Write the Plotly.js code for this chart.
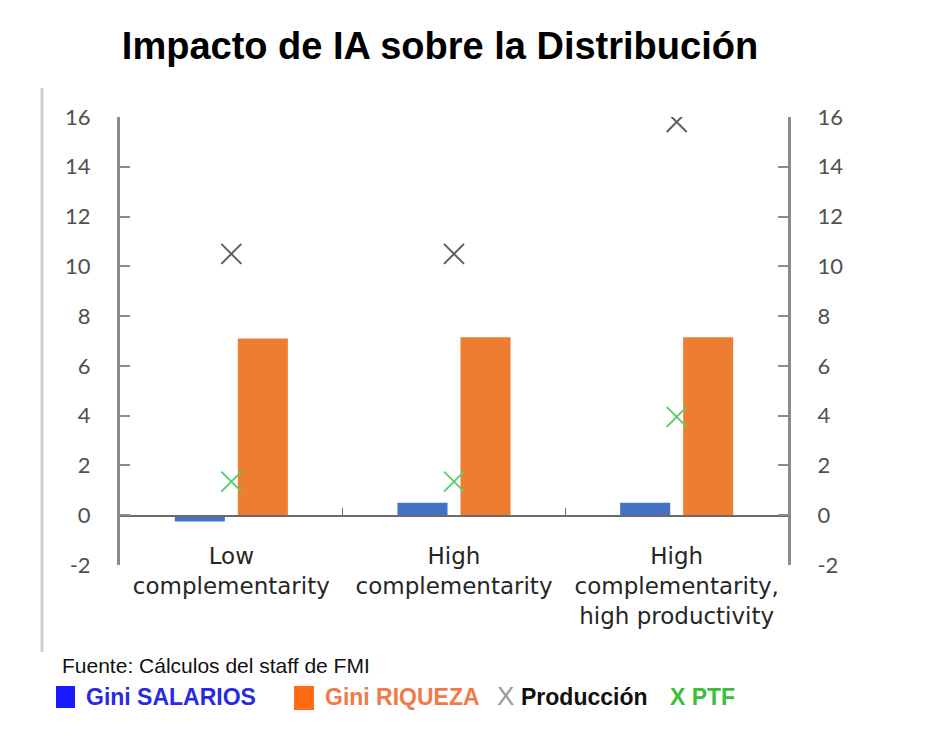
<!DOCTYPE html>
<html>
<head>
<meta charset="utf-8">
<script src="https://cdn.plot.ly/plotly-3.0.1.min.js"></script>
<style>
  html, body { margin: 0; padding: 0; background: #ffffff; }
  #grafico { width: 928px; height: 738px; }
</style>
</head>
<body>
<div id="grafico"></div>
<script>
// Datos
const categorias = [
    'Low<br>complementarity',
    'High<br>complementarity',
    'High<br>complementarity,<br>high productivity'
];
const giniSalarios = [-0.25, 0.5, 0.5];
const giniRiqueza = [7.1, 7.15, 7.15];
const produccion = [10.5, 10.5, 15.8];
const ptf = [1.35, 1.35, 3.95];
const ticksY = [-2, 0, 2, 4, 6, 8, 10, 12, 14, 16];
const ticksYTexto = ['-2', '0', '2', '4', '6', '8', '10', '12', '14', '16'];

// Área del gráfico en píxeles
const W = 928, H = 738;
const PL = 120, PR = 788, PT = 117, PB = 565;
const px = x => (x - PL) / (PR - PL);
const py = y => (PB - y) / (PB - PT);

const ejeColor = '#8c8c8c';
const textoTick = '#505050';

const traces = [
    {
        x: categorias, y: giniSalarios, type: 'bar', name: 'Gini SALARIOS',
        marker: { color: '#4472c4' }
    },
    {
        x: categorias, y: giniRiqueza, type: 'bar', name: 'Gini RIQUEZA',
        marker: { color: '#ed7d31' }
    },
    {
        x: categorias, y: produccion, type: 'scatter', mode: 'markers', name: 'Producción',
        marker: { symbol: 'x-thin-open', size: 20, color: '#5f5f5f', line: { color: '#5f5f5f', width: 2 } }
    },
    {
        x: categorias, y: ptf, type: 'scatter', mode: 'markers', name: 'PTF', yaxis: 'y2',
        marker: { symbol: 'x-thin-open', size: 20, color: '#5fcc70', line: { color: '#5fcc70', width: 2 } }
    }
];

const ejeY = {
    range: [-2, 16],
    tickvals: ticksY,
    ticktext: ticksYTexto,
    ticks: 'inside',
    ticklen: 10,
    tickwidth: 2,
    tickcolor: ejeColor,
    showline: true,
    linecolor: ejeColor,
    linewidth: 3,
    showgrid: false,
    zeroline: false,
    ticklabelstandoff: 22,
    tickfont: { family: 'Lato, sans-serif', size: 22, color: textoTick },
    fixedrange: true
};

const layout = {
    width: W,
    height: H,
    paper_bgcolor: '#ffffff',
    plot_bgcolor: '#ffffff',
    margin: { l: PL, r: W - PR, t: PT, b: H - PB },
    showlegend: false,
    barmode: 'group',
    bargap: 0.434,
    bargroupgap: 0.206,
    title: {
        text: '<b>Impacto de IA sobre la Distribución</b>',
        font: { family: 'Liberation Sans, Arial, sans-serif', size: 38, color: '#000000' },
        x: 440 / W, xanchor: 'center',
        y: 1 - 46 / H, yanchor: 'middle'
    },
    xaxis: {
        anchor: 'free',
        position: py(515),
        showline: true,
        linecolor: '#6a6a6a',
        linewidth: 1.5,
        ticks: 'inside',
        tickson: 'boundaries',
        ticklen: 7,
        tickcolor: '#6a6a6a',
        tickwidth: 1.5,
        ticklabelstandoff: 20,
        tickfont: { family: 'DejaVu Sans, sans-serif', size: 23, color: '#262626' },
        showgrid: false,
        zeroline: false,
        fixedrange: true
    },
    yaxis: Object.assign({}, ejeY, { side: 'left' }),
    yaxis2: Object.assign({}, ejeY, { side: 'right', overlaying: 'y' }),
    shapes: [
        {
            type: 'line', xref: 'paper', yref: 'paper',
            x0: px(42), x1: px(42), y0: py(88), y1: py(652),
            line: { color: '#cfcfcf', width: 3 }
        },
        {
            type: 'rect', xref: 'paper', yref: 'paper',
            x0: px(56), x1: px(75), y0: py(708), y1: py(686),
            fillcolor: '#1a1aff', line: { width: 0 }
        },
        {
            type: 'rect', xref: 'paper', yref: 'paper',
            x0: px(294), x1: px(314), y0: py(710), y1: py(686),
            fillcolor: '#ff6a14', line: { width: 0 }
        }
    ],
    annotations: [
        {
            xref: 'paper', yref: 'paper', x: px(60), y: py(665),
            xanchor: 'left', yanchor: 'middle', showarrow: false,
            text: 'Fuente: Cálculos del staff de FMI',
            font: { family: 'Liberation Sans, Arial, sans-serif', size: 21, color: '#111111' }
        },
        {
            xref: 'paper', yref: 'paper', x: px(84), y: py(697),
            xanchor: 'left', yanchor: 'middle', showarrow: false,
            text: '<b>Gini SALARIOS</b>',
            font: { family: 'Liberation Sans, Arial, sans-serif', size: 23, color: '#2a2ae0' }
        },
        {
            xref: 'paper', yref: 'paper', x: px(323), y: py(697),
            xanchor: 'left', yanchor: 'middle', showarrow: false,
            text: '<b>Gini RIQUEZA</b>',
            font: { family: 'Liberation Sans, Arial, sans-serif', size: 23, color: '#f07a4a' }
        },
        {
            xref: 'paper', yref: 'paper', x: px(495), y: py(696),
            xanchor: 'left', yanchor: 'middle', showarrow: false,
            text: 'X',
            font: { family: 'Liberation Sans, Arial, sans-serif', size: 26, color: '#9a9a9a' }
        },
        {
            xref: 'paper', yref: 'paper', x: px(519), y: py(697),
            xanchor: 'left', yanchor: 'middle', showarrow: false,
            text: '<b>Producción</b>',
            font: { family: 'Liberation Sans, Arial, sans-serif', size: 23, color: '#111111' }
        },
        {
            xref: 'paper', yref: 'paper', x: px(668), y: py(697),
            xanchor: 'left', yanchor: 'middle', showarrow: false,
            text: '<b>X PTF</b>',
            font: { family: 'Liberation Sans, Arial, sans-serif', size: 23, color: '#3cbf3c' }
        }
    ]
};

Plotly.newPlot('grafico', traces, layout, { displayModeBar: false, staticPlot: true });
</script>
</body>
</html>
